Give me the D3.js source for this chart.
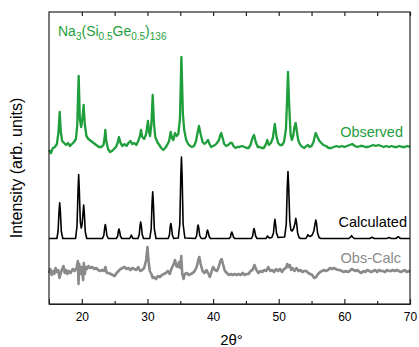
<!DOCTYPE html>
<html>
<head>
<meta charset="utf-8">
<script src="https://cdn.jsdelivr.net/npm/d3@7"></script>
<style>
  body { margin: 0; background: #fff; }
  text { font-family: "Liberation Sans", Arial, sans-serif; }
</style>
</head>
<body>
<div id="chart"></div>
<script>
// tick values for the 2theta axis
var majorTicks = [20, 30, 40, 50, 60, 70];
var minorTicks = [25, 35, 45, 55, 65];

// labels
var seriesNames = ["Observed", "Calculated", "Obs-Calc"];

// observed pattern [2theta, intensity] (arb. units, offset for display)
var observed = [
  [15.0,154],[15.3,151],[15.6,156],[15.9,157],[16.2,160],[16.45,172],[16.63,192],[16.8,172],
  [17.0,163],[17.3,161],[17.6,159],[17.9,161],[18.2,158],[18.5,160],[18.8,162],[19.1,165],
  [19.3,178],[19.52,228],[19.7,185],[19.9,177],[20.1,186],[20.28,199],[20.45,180],[20.7,168],
  [21.0,165],[21.4,163],[21.8,161],[22.2,159],[22.6,157],[23.0,157],[23.3,159],[23.45,165],
  [23.58,174],[23.75,162],[24.0,155],[24.3,152],[24.6,153],[24.9,155],[25.2,157],[25.45,161],
  [25.66,167],[25.9,161],[26.2,158],[26.5,160],[26.8,158],[27.1,161],[27.4,163],[27.7,160],
  [28.0,161],[28.3,159],[28.6,163],[28.85,168],[29.02,174],[29.2,167],[29.5,165],[29.8,170],
  [30.08,183],[30.25,172],[30.4,168],[30.6,180],[30.8,209],[31.0,180],[31.2,167],[31.5,162],
  [31.8,159],[32.1,156],[32.4,154],[32.7,156],[33.0,159],[33.3,163],[33.54,172],[33.75,166],
  [33.95,164],[34.2,171],[34.45,168],[34.7,170],[34.95,185],[35.17,247],[35.4,190],[35.6,174],
  [35.9,164],[36.2,160],[36.5,158],[36.8,157],[37.1,158],[37.4,163],[37.6,170],[37.85,178],
  [38.1,170],[38.4,162],[38.7,160],[39.0,162],[39.22,164],[39.45,160],[39.7,157],[40.0,158],
  [40.3,159],[40.6,161],[40.9,164],[41.1,169],[41.25,171],[41.45,166],[41.7,160],[42.0,158],
  [42.3,159],[42.6,161],[42.88,161],[43.1,158],[43.4,156],[43.7,157],[44.0,157],[44.4,158],
  [44.8,157],[45.1,156],[45.4,156],[45.7,159],[45.95,165],[46.23,169],[46.5,162],[46.8,157],
  [47.1,157],[47.4,156],[47.7,156],[48.0,159],[48.26,164],[48.5,159],[48.8,161],[49.1,166],
  [49.4,180],[49.65,168],[49.9,161],[50.2,159],[50.5,159],[50.8,162],[51.1,175],[51.25,200],
  [51.41,232],[51.6,198],[51.8,170],[52.0,164],[52.2,168],[52.4,177],[52.58,181],[52.8,171],
  [53.0,163],[53.3,159],[53.6,157],[53.9,156],[54.2,158],[54.46,159],[54.7,157],[55.0,158],
  [55.3,162],[55.5,168],[55.63,171],[55.9,167],[56.2,163],[56.5,161],[56.8,159],[57.2,158],
  [57.6,156],[58.0,156],[58.4,157],[58.8,158],[59.2,157],[59.6,158],[60.0,157],[60.4,158],
  [60.8,159],[61.2,160],[61.6,158],[62.0,157],[62.4,158],[62.8,158],[63.2,157],[63.6,157],
  [64.0,158],[64.4,159],[64.8,158],[65.2,159],[65.6,158],[66.0,157],[66.4,158],[66.8,157],
  [67.2,158],[67.6,157],[68.0,157],[68.4,158],[68.8,157],[69.2,157],[69.6,158],[70.0,157]
];

// calculated pattern [2theta, intensity]
var calculated = [
  [15.0,65.5],[16.2,65.5],[16.38,72.5],[16.53,92.5],[16.63,101.3],[16.73,92.5],[16.88,72.5],[17.1,65.5],
  [19.05,65.5],[19.27,78],[19.42,113],[19.52,129.5],[19.62,113],[19.77,82],[19.92,76],[20.05,80],
  [20.18,91],[20.28,99],[20.38,91],[20.53,72],[20.75,65.5],
  [23.15,65.5],[23.35,68.5],[23.48,76],[23.58,79.5],[23.68,76],[23.82,68.5],[24.05,65.5],
  [25.25,65.5],[25.45,67.5],[25.56,72.5],[25.66,75],[25.76,72.5],[25.9,67.5],[26.1,65.5],
  [27.3,65.5],[27.45,67.5],[27.54,69],[27.63,67.5],[27.8,65.5],
  [28.55,65.5],[28.75,69.5],[28.87,78],[28.97,82],[29.07,78],[29.2,69.5],[29.4,65.5],
  [30.35,65.5],[30.57,75],[30.7,101],[30.8,112.3],[30.9,101],[31.05,75],[31.3,65.5],
  [33.15,65.5],[33.35,69],[33.46,77],[33.56,80.5],[33.66,77],[33.8,69],[34.0,65.5],
  [34.7,66],[34.93,80],[35.08,128],[35.18,147],[35.28,128],[35.43,80],[35.7,66],
  [37.3,65.5],[37.5,68.5],[37.62,76],[37.72,79],[37.82,76],[37.96,68.5],[38.2,65.5],
  [38.75,65.5],[38.95,67.5],[39.05,72],[39.15,74],[39.25,72],[39.4,67.5],[39.6,65.5],
  [42.45,65.5],[42.65,67],[42.75,70.5],[42.85,72],[42.95,70.5],[43.1,67],[43.3,65.5],
  [45.85,65.5],[46.03,68],[46.14,73],[46.24,75.5],[46.34,73],[46.48,68],[46.7,65.5],
  [48.05,65.5],[48.2,67],[48.3,68],[48.4,67],[48.6,66],
  [48.95,66.5],[49.2,71],[49.32,80],[49.42,84.7],[49.52,80],[49.66,71],[49.9,66.5],
  [50.9,67],[51.15,80],[51.3,117],[51.41,132.5],[51.52,117],[51.68,83],[51.85,74],[52.05,73],
  [52.3,76],[52.48,81],[52.6,85.7],[52.72,81],[52.88,71],[53.1,66.5],[53.35,65.5],
  [54.15,65.5],[54.3,67.5],[54.45,69.3],[54.6,68],[54.8,67.5],[55.1,69],[55.35,73],[55.53,80],
  [55.65,84],[55.77,80],[55.92,71],[56.15,66.5],[56.4,65.5],
  [60.7,65.5],[60.95,67],[61.1,68.3],[61.25,67],[61.5,65.5],
  [63.85,65.5],[64.2,66.7],[64.55,65.5],[66.45,65.5],[66.8,66.4],[67.15,65.5],
  [67.85,65.5],[68.2,67.3],[68.55,65.5],[70.0,65.5]
];

// difference curve [2theta, intensity]
var difference = [
  [15.0,31],[15.2,35],[15.4,29],[15.6,33],[15.8,30],[16.0,36],[16.2,32],[16.4,34],[16.6,26],
  [16.8,31],[17.0,35],[17.2,38],[17.4,31],[17.6,34],[17.8,30],[18.0,33],[18.3,31],[18.6,35],
  [18.9,33],[19.2,36],[19.4,43],[19.5,20],[19.6,40],[19.8,30],[20.0,37],[20.2,24],[20.3,41],
  [20.45,30],[20.6,37],[20.8,35],[21.0,38],[21.3,36],[21.6,37],[21.9,35],[22.2,36],[22.5,34],
  [22.8,33],[23.1,34],[23.4,33],[23.6,37],[23.8,31],[24.1,31],[24.4,30],[24.7,29],[25.0,28],
  [25.3,31],[25.6,33],[25.9,35],[26.2,36],[26.5,37],[26.8,35],[27.1,36],[27.4,34],[27.7,36],
  [28.0,35],[28.3,34],[28.6,37],[28.9,33],[29.2,34],[29.5,36],[29.8,44],[30.0,57],[30.15,44],
  [30.35,33],[30.6,30],[30.8,26],[31.0,27],[31.3,25],[31.6,28],[31.9,27],[32.2,29],[32.5,30],
  [32.8,31],[33.1,33],[33.4,30],[33.7,36],[34.0,40],[34.2,44],[34.4,38],[34.6,37],[34.8,42],
  [35.0,36],[35.15,48],[35.3,30],[35.5,25],[35.7,30],[36.0,31],[36.3,29],[36.6,30],[36.9,31],
  [37.2,33],[37.5,37],[37.75,44],[37.9,47],[38.1,40],[38.4,33],[38.7,31],[39.0,34],[39.3,30],
  [39.5,27],[39.8,33],[40.0,37],[40.3,34],[40.6,33],[40.9,38],[41.1,43],[41.3,45],[41.5,40],
  [41.8,33],[42.1,31],[42.4,29],[42.7,30],[43.0,29],[43.3,30],[43.6,29],[43.9,30],[44.2,29],
  [44.5,31],[44.8,29],[45.1,30],[45.4,30],[45.7,33],[46.0,34],[46.3,39],[46.6,34],[46.9,31],
  [47.2,33],[47.5,32],[47.8,34],[48.1,33],[48.4,37],[48.7,33],[49.0,34],[49.3,32],[49.6,35],
  [49.9,33],[50.2,35],[50.5,32],[50.8,35],[51.1,36],[51.3,40],[51.5,37],[51.7,39],[51.9,34],
  [52.1,36],[52.4,33],[52.7,36],[53.0,33],[53.3,34],[53.6,32],[53.9,33],[54.2,33],[54.5,31],
  [54.8,30],[55.1,29],[55.4,26],[55.7,27],[56.0,30],[56.3,32],[56.6,33],[56.9,34],[57.2,33],
  [57.5,34],[57.8,36],[58.1,35],[58.4,36],[58.7,35],[59.0,34],[59.3,34],[59.6,33],[59.9,32],
  [60.2,33],[60.5,32],[60.8,33],[61.1,35],[61.4,34],[61.7,33],[62.0,34],[62.3,32],[62.6,31],
  [62.9,33],[63.2,32],[63.5,34],[63.8,33],[64.1,32],[64.4,33],[64.7,34],[65.0,32],[65.3,34],
  [65.6,33],[65.9,33],[66.2,32],[66.5,34],[66.8,33],[67.1,33],[67.4,34],[67.7,33],[68.0,34],
  [68.3,33],[68.6,32],[68.9,33],[69.2,34],[69.5,32],[69.8,33],[70.0,32]
];

var green = "#1f9e3c", grey = "#8a8a8a";

// dimensions and margins of graph
var margin = { top: 12, right: 9, bottom: 43, left: 49 },
  width = 419 - margin.left - margin.right,
  height = 347 - margin.top - margin.bottom;

var svg = d3.select("#chart")
  .append("svg")
  .attr("width", width + margin.left + margin.right)
  .attr("height", height + margin.top + margin.bottom)
  .append("g")
  .attr("transform", "translate(" + margin.left + "," + margin.top + ")");

var x = d3.scaleLinear().domain([15, 70]).range([0, width]);
var y = d3.scaleLinear().domain([0, 292]).range([height, 0]);

var line = d3.line()
  .x(function (d) { return x(d[0]); })
  .y(function (d) { return y(d[1]); });

// curves
svg.append("path").datum(difference)
  .attr("d", line).attr("fill", "none")
  .attr("stroke", grey).attr("stroke-width", 2.6).attr("stroke-linejoin", "round");

svg.append("path").datum(calculated)
  .attr("d", line).attr("fill", "none")
  .attr("stroke", "#000").attr("stroke-width", 1.6).attr("stroke-linejoin", "round");

svg.append("path").datum(observed)
  .attr("d", line).attr("fill", "none")
  .attr("stroke", green).attr("stroke-width", 2.3).attr("stroke-linejoin", "round");

// bottom axis, ticks pointing in
var bottom = svg.append("g")
  .attr("transform", "translate(0," + height + ")")
  .call(d3.axisBottom(x).tickValues(majorTicks).tickSize(-5).tickPadding(8).tickFormat(d3.format("d")));
bottom.selectAll("text").attr("font-size", 12).attr("fill", "#000")
  .style("font-family", "'Liberation Sans', Arial, sans-serif");

svg.append("g")
  .attr("transform", "translate(0," + height + ")")
  .call(d3.axisBottom(x).tickValues(minorTicks).tickSize(-3).tickFormat(""))
  .select(".domain").remove();

// top axis
svg.append("g")
  .call(d3.axisTop(x).tickValues(majorTicks.concat(minorTicks)).tickSize(-4).tickFormat(""))
  .select(".domain").remove();

// frame
svg.append("rect")
  .attr("width", width).attr("height", height)
  .attr("fill", "none").attr("stroke", "#222").attr("stroke-width", 1.2);

svg.selectAll(".tick line").attr("stroke", "#222").attr("stroke-width", 1.2);
svg.selectAll(".domain").attr("stroke", "#222");

// series labels
var labelPos = [[354, 125, green], [358, 215, "#000"], [352, 251, grey]];
seriesNames.forEach(function (name, i) {
  svg.append("text")
    .attr("x", labelPos[i][0]).attr("y", labelPos[i][1])
    .attr("text-anchor", "end")
    .attr("font-size", 14.5)
    .attr("fill", labelPos[i][2])
    .text(name);
});

// compound formula
var title = svg.append("text")
  .attr("x", 9).attr("y", 24)
  .attr("font-size", 14)
  .attr("fill", green);
title.append("tspan").text("Na");
title.append("tspan").attr("font-size", 10).attr("dy", 4).text("3");
title.append("tspan").attr("dy", -4).text("(Si");
title.append("tspan").attr("font-size", 10).attr("dy", 4).text("0.5");
title.append("tspan").attr("dy", -4).text("Ge");
title.append("tspan").attr("font-size", 10).attr("dy", 4).text("0.5");
title.append("tspan").attr("dy", -4).text(")");
title.append("tspan").attr("font-size", 10).attr("dy", 4).text("136");

// axis titles
svg.append("text")
  .attr("x", width / 2 + 2)
  .attr("y", height + 41)
  .attr("text-anchor", "middle")
  .attr("font-size", 15)
  .text("2θ°");

svg.append("text")
  .attr("transform", "rotate(-90)")
  .attr("x", -(height / 2) - 10)
  .attr("y", -27)
  .attr("text-anchor", "middle")
  .attr("font-size", 16)
  .text("Intensity (arb. units)");
</script>
</body>
</html>
